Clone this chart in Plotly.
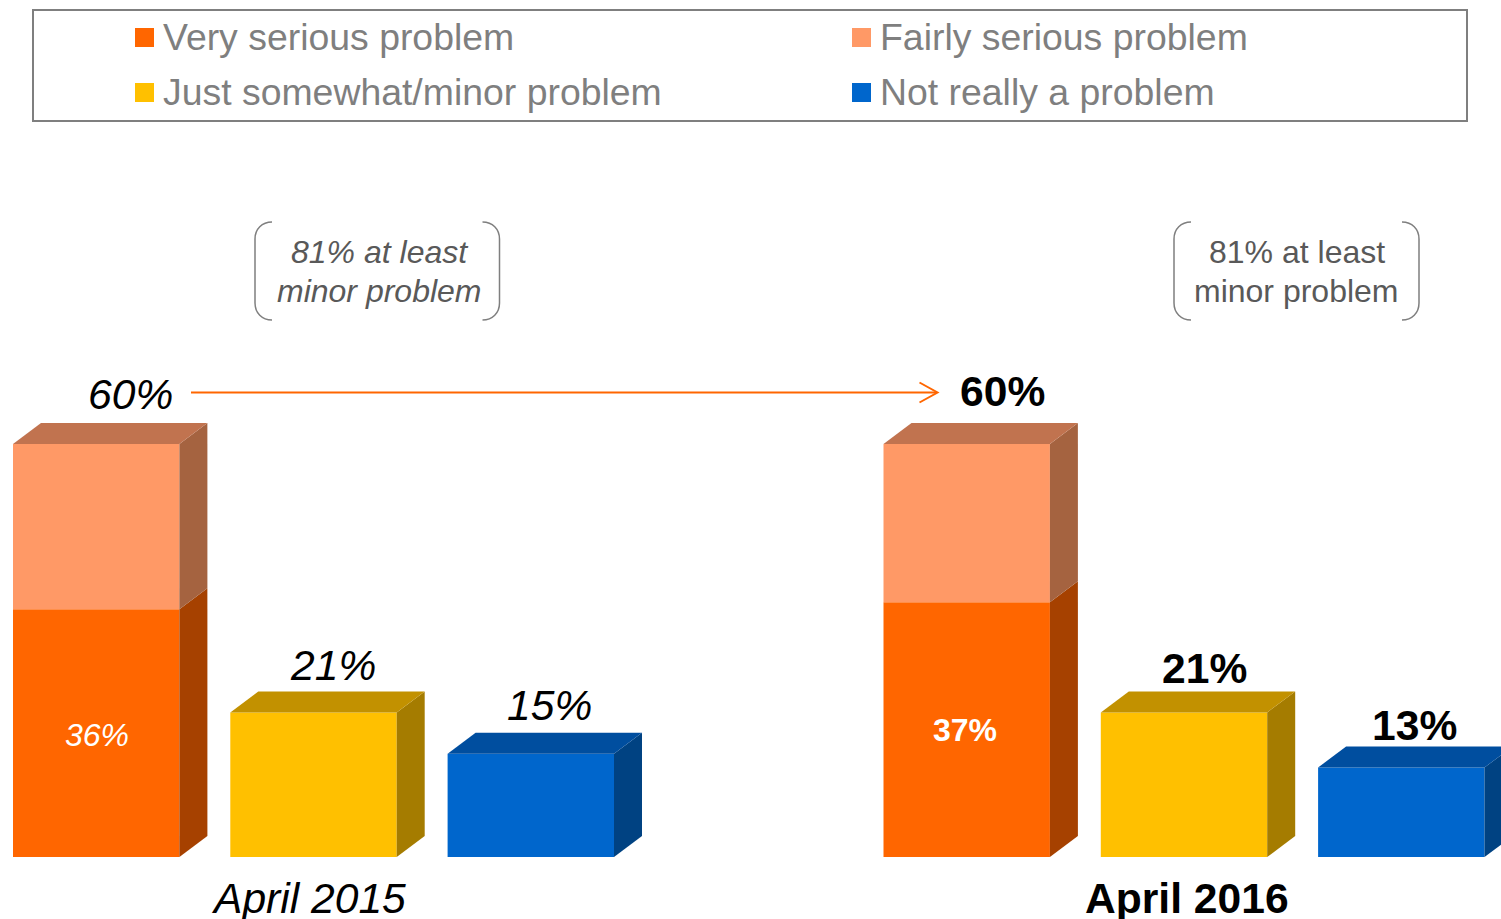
import plotly.graph_objects as go

# ---- data ----
periods = ["April 2015", "April 2016"]
very_serious = [36, 37]
fairly_serious = [24, 23]
at_least_serious = [60, 60]
somewhat_minor = [21, 21]
not_a_problem = [15, 13]
at_least_minor = [81, 81]
legend_labels = ["Very serious problem", "Fairly serious problem",
                 "Just somewhat/minor problem", "Not really a problem"]

# ---- styling / layout constants ----
W, H = 1501, 919
FONT = "Liberation Sans"
ORANGE, ORANGE_TOP, ORANGE_SIDE = "#FF6600", "#C1734F", "#A64100"
PEACH, PEACH_SIDE = "#FF9966", "#A56340"
YELLOW, YELLOW_TOP, YELLOW_SIDE = "#FFC000", "#C29100", "#A57C00"
BLUE, BLUE_TOP, BLUE_SIDE = "#0066CC", "#004E9F", "#004282"
GREY, DARK_GREY = "#7F7F7F", "#595959"

GROUP_LEFT = [13, 883.5]
PITCH = 217.3
BAR_W = 166.4
DX = 28
PX_PER_UNIT = 6.885
DY = 21 / PX_PER_UNIT
Y_BASE_PX = 857
Y_TOP = Y_BASE_PX / PX_PER_UNIT
Y_BOTTOM = -(H - Y_BASE_PX) / PX_PER_UNIT

fig = go.Figure()


def box(x, base, height, front, top, side, draw_top=True):
    fig.add_bar(x=[x + BAR_W / 2], y=[height], base=[base], width=[BAR_W],
                marker=dict(color=front, line=dict(width=0)), hoverinfo="skip")
    y0, y1 = base, base + height
    fig.add_scatter(x=[x + BAR_W, x + BAR_W + DX, x + BAR_W + DX, x + BAR_W, x + BAR_W],
                    y=[y0, y0 + DY, y1 + DY, y1, y0], fill="toself", fillcolor=side,
                    mode="none", hoverinfo="skip")
    if draw_top:
        fig.add_scatter(x=[x, x + DX, x + BAR_W + DX, x + BAR_W, x],
                        y=[y1, y1 + DY, y1 + DY, y1, y1], fill="toself", fillcolor=top,
                        mode="none", hoverinfo="skip")


for g, left in enumerate(GROUP_LEFT):
    box(left, 0, very_serious[g], ORANGE, ORANGE_TOP, ORANGE_SIDE, draw_top=False)
    box(left, very_serious[g], fairly_serious[g], PEACH, ORANGE_TOP, PEACH_SIDE)
    box(left + PITCH, 0, somewhat_minor[g], YELLOW, YELLOW_TOP, YELLOW_SIDE)
    box(left + 2 * PITCH, 0, not_a_problem[g], BLUE, BLUE_TOP, BLUE_SIDE)

ann = []


def px_text(text, x, y, size, color="#000000", anchor="center"):
    ann.append(dict(text=text, xref="x", yref="paper", x=x, y=1 - y / H, xanchor=anchor,
                    yanchor="middle", showarrow=False, align="center",
                    font=dict(family=FONT, size=size, color=color)))


def value_label(text, x, value, shift, size=42.6, color="#000000"):
    ann.append(dict(text=text, xref="x", yref="y", x=x, y=value, xanchor="center",
                    yanchor="middle", yshift=shift, showarrow=False,
                    font=dict(family=FONT, size=size, color=color)))


def style(g, s):
    return f"<i>{s}</i>" if g == 0 else f"<b>{s}</b>"


label_x = [[130, 332.5, 549.5], [1002, 1204, 1414]]
label_shift = [[50, 47, 49], [53, 44, 43]]
inner_x = [97, 965]
inner_shift = [-2, 0]
for g in range(2):
    totals = [at_least_serious[g], somewhat_minor[g], not_a_problem[g]]
    for i, v in enumerate(totals):
        value_label(style(g, f"{v}%"), label_x[g][i], v, label_shift[g][i])
    value_label(style(g, f"{very_serious[g]}%"), inner_x[g], very_serious[g] / 2,
                inner_shift[g], size=32, color="#FFFFFF")

px_text(style(0, periods[0]), 308, 898, 42.6)
px_text(style(1, periods[1]), 1186.5, 898, 42.6)

# callouts
callout_x = [379, 1296.5]
for g in range(2):
    line1, line2 = f"{at_least_minor[g]}% at least", "minor problem"
    if g == 0:
        line1, line2 = f"<i>{line1}</i>", f"<i>{line2}</i>"
    px_text(line1, callout_x[g], 252.5, 32, DARK_GREY)
    px_text(line2, callout_x[g], 291, 32, DARK_GREY)

# legend
swatch_x = [135, 852, 135, 852]
swatch_y = [28, 28, 83, 83]
text_y = [37.5, 37.5, 91.5, 91.5]
swatch_c = [ORANGE, PEACH, YELLOW, BLUE]
shapes = [dict(type="rect", xref="x", yref="paper", x0=33, x1=1467, y0=1 - 121 / H, y1=1 - 10 / H,
               line=dict(color=GREY, width=2), fillcolor="rgba(0,0,0,0)")]
for lab, sx, sy, ty, sc in zip(legend_labels, swatch_x, swatch_y, text_y, swatch_c):
    shapes.append(dict(type="rect", xref="x", yref="paper", x0=sx, x1=sx + 19,
                       y0=1 - (sy + 19) / H, y1=1 - sy / H, fillcolor=sc, line=dict(width=0)))
    px_text(lab, sx + 25.5, ty, 37.4, GREY, anchor="left")


def pix_path(d, color, width):
    return dict(type="path", path=d, xref="x", yref="y",
                line=dict(color=color, width=width), fillcolor="rgba(0,0,0,0)")


def py(y):
    return (Y_BASE_PX - y) / PX_PER_UNIT


def bracket(xl, xr, yt, yb):
    r = 17
    k = 7
    left = (f"M{xl + r},{py(yt)} C{xl + k},{py(yt)} {xl},{py(yt + k)} {xl},{py(yt + r)} "
            f"L{xl},{py(yb - r)} C{xl},{py(yb - k)} {xl + k},{py(yb)} {xl + r},{py(yb)}")
    right = (f"M{xr - r},{py(yt)} C{xr - k},{py(yt)} {xr},{py(yt + k)} {xr},{py(yt + r)} "
             f"L{xr},{py(yb - r)} C{xr},{py(yb - k)} {xr - k},{py(yb)} {xr - r},{py(yb)}")
    return [pix_path(left, GREY, 1.5), pix_path(right, GREY, 1.5)]


shapes += bracket(255, 499.5, 222, 320)
shapes += bracket(1174, 1419, 222, 320)

# arrow between the two 60% labels
shapes.append(dict(type="line", xref="x", yref="y", x0=191, x1=936.5, y0=py(392.5), y1=py(392.5),
                   line=dict(color=ORANGE, width=2)))
shapes.append(pix_path(f"M919.5,{py(382.5)} L937.5,{py(392.5)} L919.5,{py(402.5)}", ORANGE, 2))

fig.update_layout(
    width=W, height=H, autosize=False, margin=dict(l=0, r=0, t=0, b=0),
    paper_bgcolor="white", plot_bgcolor="white", showlegend=False, barmode="overlay",
    xaxis=dict(range=[0, W], visible=False, fixedrange=True),
    yaxis=dict(range=[Y_BOTTOM, Y_TOP], visible=False, fixedrange=True),
    annotations=ann, shapes=shapes, font=dict(family=FONT),
)
fig.write_html("out.html", config=dict(displayModeBar=False),
               post_script="document.body.style.margin='0';document.body.style.overflow='hidden';")
